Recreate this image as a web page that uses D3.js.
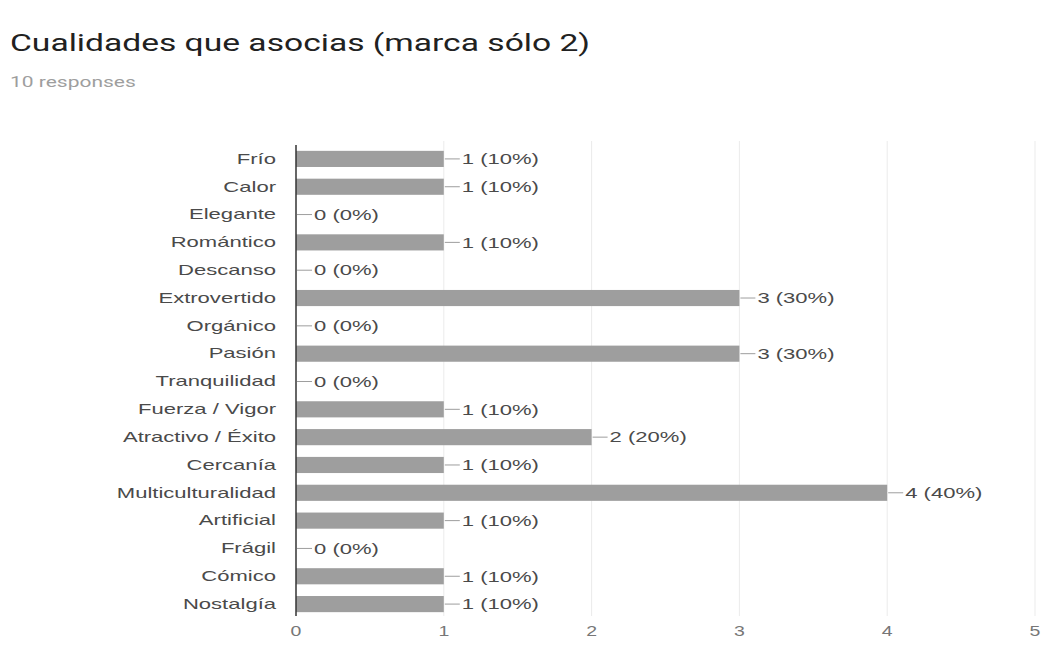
<!DOCTYPE html>
<html>
<head>
<meta charset="utf-8">
<script src="https://cdn.jsdelivr.net/npm/d3@7"></script>
<style>
  body { margin: 0; background: #fff; }
</style>
</head>
<body>
<div id="container"></div>
<script>
var categories = ['Frío', 'Calor', 'Elegante', 'Romántico', 'Descanso', 'Extrovertido', 'Orgánico',
    'Pasión', 'Tranquilidad', 'Fuerza / Vigor', 'Atractivo / Éxito', 'Cercanía', 'Multiculturalidad',
    'Artificial', 'Frágil', 'Cómico', 'Nostalgía'];
var counts = [1, 1, 0, 1, 0, 3, 0, 3, 0, 1, 2, 1, 4, 1, 0, 1, 1];
var total = 10;
var xTicks = [0, 1, 2, 3, 4, 5];

var width = 1052,
    height = 657,
    stretch = 1.47;   // the picture is wider than tall, text looks stretched

var svg = d3.select('#container')
    .append('svg')
    .attr('width', width)
    .attr('height', height)
    .style('font-family', '"Liberation Sans", Arial, sans-serif');

// title
svg.append('text')
    .attr('transform', 'translate(10,51) scale(1.4,1)')
    .style('font-family', 'Roboto, sans-serif')
    .style('font-size', '24px')
    .attr('fill', '#212121')
    .text('Cualidades que asocias (marca sólo 2)');
svg.append('text')
    .attr('transform', 'translate(10,87) scale(1.4,1)')
    .style('font-family', 'Roboto, sans-serif')
    .style('font-size', '15px')
    .attr('fill', '#9e9e9e')
    .text(total + ' responses');

var scale_x = d3.scaleLinear()
    .domain([0, 5])
    .range([296, 1035]);
var scale_y = d3.scaleBand()
    .domain(categories)
    .range([145, 618])
    .paddingInner(0.42)
    .paddingOuter(0.21);

// grid
svg.append('g')
    .selectAll('line')
    .data(xTicks.slice(1))
    .enter().append('line')
    .attr('x1', function (d) { return scale_x(d); })
    .attr('x2', function (d) { return scale_x(d); })
    .attr('y1', 141)
    .attr('y2', 616)
    .attr('stroke', '#ebebeb');

// bars
svg.append('g')
    .selectAll('rect')
    .data(counts)
    .enter().append('rect')
    .attr('x', scale_x(0))
    .attr('y', function (d, i) { return scale_y(categories[i]); })
    .attr('width', function (d) { return scale_x(d) - scale_x(0); })
    .attr('height', scale_y.bandwidth())
    .attr('fill', '#9e9e9e');

// value labels with leader lines
var lab = svg.append('g')
    .selectAll('g')
    .data(counts)
    .enter().append('g')
    .attr('transform', function (d, i) {
        return 'translate(' + scale_x(d) + ',' + (scale_y(categories[i]) + scale_y.bandwidth() / 2) + ')';
    });
lab.append('line')
    .attr('x1', 1).attr('x2', 16)
    .attr('stroke', '#9e9e9e');
lab.append('text')
    .attr('transform', 'translate(18,0) scale(' + stretch + ',1)')
    .attr('dy', '0.35em')
    .style('font-size', '15px')
    .attr('fill', '#4a4a4a')
    .text(function (d) { return d + ' (' + Math.round(d / total * 100) + '%)'; });

// category axis
var y_axis = d3.axisLeft(scale_y).tickSize(0).tickPadding(20);
var gy = svg.append('g')
    .attr('transform', 'translate(' + scale_x(0) + ',0)')
    .call(y_axis);
gy.select('.domain').remove();
gy.selectAll('text')
    .attr('x', -20 / stretch)
    .attr('transform', 'scale(' + stretch + ',1)')
    .style('font-size', '15px')
    .style('font-family', '"Liberation Sans", Arial, sans-serif')
    .attr('fill', '#4a4a4a');
svg.append('line')
    .attr('x1', scale_x(0)).attr('x2', scale_x(0))
    .attr('y1', 145).attr('y2', 616)
    .attr('stroke', '#333')
    .attr('stroke-width', 1.5);

// value axis
var x_axis = d3.axisBottom(scale_x).tickValues(xTicks).tickFormat(d3.format('d')).tickSize(0).tickPadding(8);
var gx = svg.append('g')
    .attr('transform', 'translate(0,617)')
    .call(x_axis);
gx.select('.domain').remove();
gx.selectAll('text')
    .attr('transform', 'scale(1.3,1)')
    .attr('x', 0)
    .style('font-size', '15px')
    .style('font-family', '"Liberation Sans", Arial, sans-serif')
    .attr('fill', '#777');
gx.selectAll('.tick').attr('transform', function (d) { return 'translate(' + scale_x(d) + ',0)'; });
</script>
</body>
</html>
